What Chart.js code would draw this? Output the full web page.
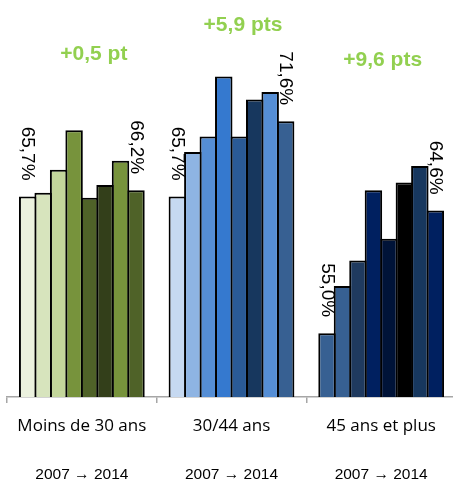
<!DOCTYPE html>
<html>
<head>
<meta charset="utf-8">
<script src="https://cdn.jsdelivr.net/npm/chart.js@4/dist/chart.umd.min.js"></script>
<style>
  html, body { margin: 0; padding: 0; background: #fff; overflow: hidden; }
  #wrap { width: 456px; height: 500px; }
</style>
</head>
<body>
<div id="wrap"><canvas id="c" width="456" height="500"></canvas></div>
<script>
// Age groups and yearly rates (%), 2007 to 2014
const groups = ['Moins de 30 ans', '30/44 ans', '45 ans et plus'];
const periodLabels = ['2007 \u2192 2014', '2007 \u2192 2014', '2007 \u2192 2014'];
const years = ['2007', '2008', '2009', '2010', '2011', '2012', '2013', '2014'];

const under30 = [65.7, 66.0, 67.8, 70.9, 65.6, 66.6, 68.5, 66.2];
const age30to44 = [65.7, 69.2, 70.4, 75.1, 70.4, 73.3, 73.9, 71.6];
const age45plus = [55.0, 58.7, 60.7, 66.2, 62.4, 66.8, 68.1, 64.6];

// Fill colours, one per year, for each age group
const greens = ['#EBF1DE', '#D7E4BD', '#C3D69B', '#77933C', '#4F6228', '#333F1A', '#77933C', '#4F6228'];
const blues = ['#C6D9F1', '#8EB4E3', '#558ED5', '#3579CF', '#2A5A96', '#17375E', '#558ED5', '#376092'];
const navies = ['#376092', '#376092', '#1F3A5F', '#002060', '#001338', '#000000', '#17375E', '#002060'];

// Where the change captions sit: offset from the group centre (px) and height (value units)
const gainPlacement = [
  { dx: 12, v: 76.4 },
  { dx: 11.5, v: 78.7 },
  { dx: 1.5, v: 75.9 }
];

const FONT = '"Liberation Sans", Arial, sans-serif';
const LABEL_FONT = '"Open Sans", "Liberation Sans", sans-serif';
const series = [under30, age30to44, age45plus];

// Bars overlap by their outline width so neighbours share a single dark edge
const datasets = years.map((y, i) => ({
  label: y,
  data: series.map(s => s[i]),
  backgroundColor: [greens[i], blues[i], navies[i]],
  borderColor: '#000',
  borderWidth: 2,
  barPercentage: 1.129,
  categoryPercentage: 0.827
}));

const fmt = v => v.toFixed(1).replace('.', ',');

// Rotated value labels on the first and last year of each group
const valueLabels = {
  id: 'valueLabels',
  afterDatasetsDraw(chart) {
    const ctx = chart.ctx;
    const last = chart.data.datasets.length - 1;
    ctx.save();
    ctx.font = '19px ' + FONT;
    ctx.fillStyle = '#000';
    [0, last].forEach(di => {
      chart.getDatasetMeta(di).data.forEach((bar, i) => {
        const v = chart.data.datasets[di].data[i];
        ctx.save();
        ctx.translate(bar.x, bar.y - 16);
        ctx.rotate(Math.PI / 2);
        ctx.textAlign = 'right';
        ctx.textBaseline = 'middle';
        ctx.fillText(fmt(v) + '%', 0, 0);
        ctx.restore();
      });
    });
    ctx.restore();
  }
};

// Green captions with the change between the first and last year
const gainCaptions = {
  id: 'gainCaptions',
  afterDraw(chart) {
    const ctx = chart.ctx;
    const xs = chart.scales.x, ys = chart.scales.y;
    ctx.save();
    ctx.font = 'bold 21px ' + FONT;
    ctx.fillStyle = '#92D050';
    ctx.textAlign = 'center';
    ctx.textBaseline = 'alphabetic';
    series.forEach((s, i) => {
      const d = Math.round((s[s.length - 1] - s[0]) * 10) / 10;
      const unit = Math.abs(d) < 2 ? 'pt' : 'pts';
      const text = (d >= 0 ? '+' : '') + fmt(d) + ' ' + unit;
      const p = gainPlacement[i];
      ctx.fillText(text, xs.getPixelForValue(i) + p.dx, ys.getPixelForValue(p.v));
    });
    ctx.restore();
  }
};

new Chart(document.getElementById('c'), {
  type: 'bar',
  data: { labels: groups, datasets },
  options: {
    responsive: false,
    animation: false,
    layout: { padding: { left: 7, top: 14, right: 0, bottom: 0 } },
    plugins: { legend: { display: false }, tooltip: { enabled: false } },
    scales: {
      y: { display: false, min: 50, max: 80 },
      x: {
        weight: 0,
        offset: true,
        grid: {
          offset: true,
          drawOnChartArea: false,
          drawTicks: true,
          tickLength: 6,
          color: '#A6A6A6',
          lineWidth: 1.5
        },
        border: { display: true, color: '#A6A6A6', width: 1.5 },
        ticks: { color: '#000', padding: 13, font: { family: LABEL_FONT, size: 17 } }
      },
      x2: {
        type: 'category',
        labels: periodLabels,
        position: 'bottom',
        weight: 1,
        offset: true,
        grid: { display: false, drawTicks: false },
        border: { display: false },
        ticks: { color: '#000', padding: 16, font: { family: FONT, size: 15.5 } }
      }
    }
  },
  plugins: [valueLabels, gainCaptions]
});
</script>
</body>
</html>
